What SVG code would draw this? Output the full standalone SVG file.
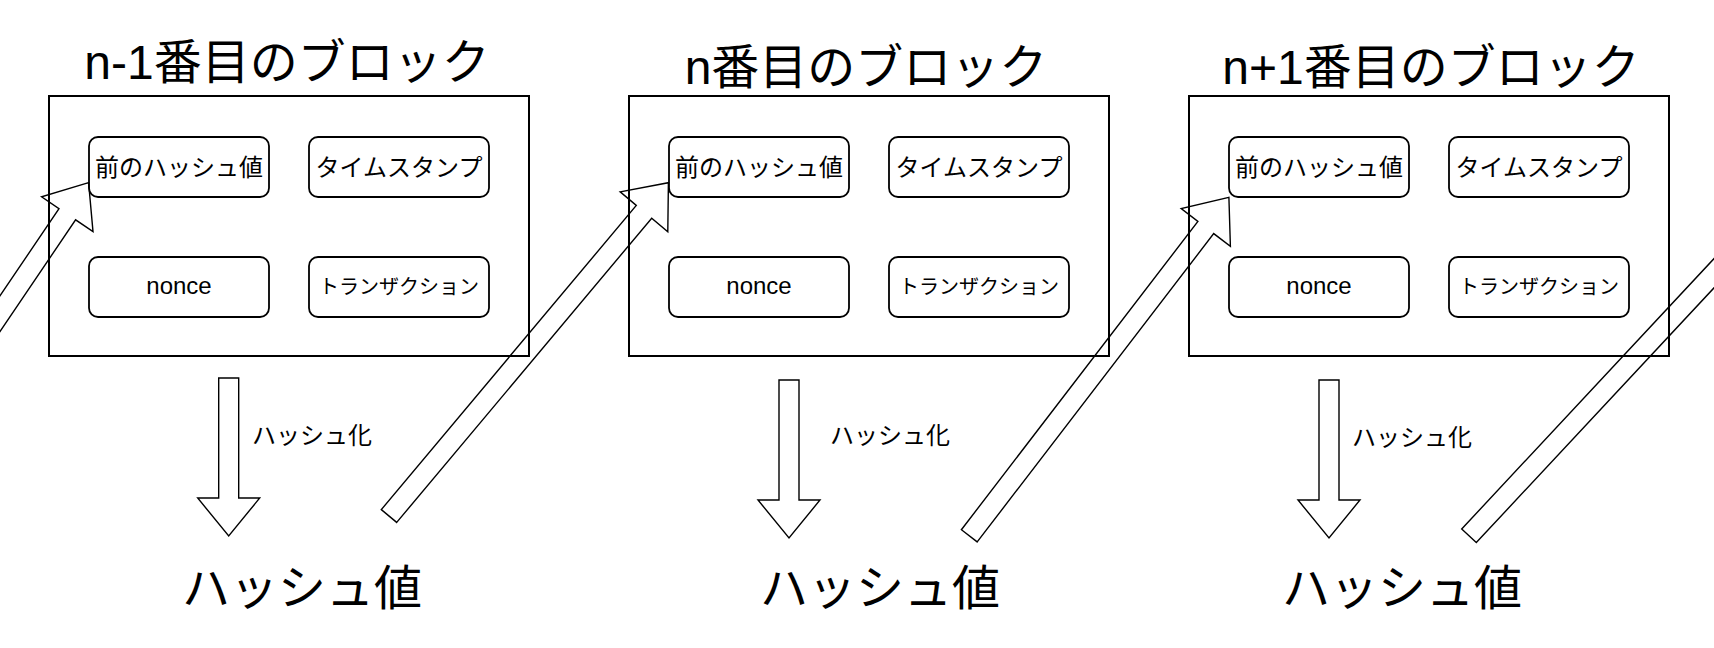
<svg xmlns="http://www.w3.org/2000/svg" width="1714" height="648" viewBox="0 0 1714 648">
<style>
text{font-family:"Liberation Sans","Noto Sans CJK JP",sans-serif;fill:#000;text-anchor:middle}
.blk{fill:none;stroke:#000;stroke-width:2}
.box{fill:#fff;stroke:#000;stroke-width:1.8}
.arr{fill:none;stroke:#000;stroke-width:1.4;stroke-linejoin:miter}
.title{font-size:48px}
.t24{font-size:24px}
.t20{font-size:20px}
.big{font-size:48px}
</style>
<rect width="1714" height="648" fill="#fff"/>

<g id="block-n-1">
<text class="title" x="287" y="79">n-1番目のブロック</text>
<rect class="blk" x="49" y="96" width="480" height="260"/>
</g>
<g id="block-n-1-prevhash"><rect class="box" x="89" y="137" width="180" height="60" rx="9"/><text class="t24" x="179" y="176">前のハッシュ値</text></g>
<g id="block-n-1-timestamp"><rect class="box" x="309" y="137" width="180" height="60" rx="9"/><text class="t24" x="399" y="176">タイムスタンプ</text></g>
<g id="block-n-1-nonce"><rect class="box" x="89" y="257" width="180" height="60" rx="9"/><text class="t24" x="179" y="294">nonce</text></g>
<g id="block-n-1-tx"><rect class="box" x="309" y="257" width="180" height="60" rx="9"/><text class="t20" x="399" y="294">トランザクション</text></g>
<g id="hash-n-1"><text class="big" x="302" y="605">ハッシュ値</text></g>

<g id="block-n">
<text class="title" x="866" y="84">n番目のブロック</text>
<rect class="blk" x="629" y="96" width="480" height="260"/>
</g>
<g id="block-n-prevhash"><rect class="box" x="669" y="137" width="180" height="60" rx="9"/><text class="t24" x="759" y="176">前のハッシュ値</text></g>
<g id="block-n-timestamp"><rect class="box" x="889" y="137" width="180" height="60" rx="9"/><text class="t24" x="979" y="176">タイムスタンプ</text></g>
<g id="block-n-nonce"><rect class="box" x="669" y="257" width="180" height="60" rx="9"/><text class="t24" x="759" y="294">nonce</text></g>
<g id="block-n-tx"><rect class="box" x="889" y="257" width="180" height="60" rx="9"/><text class="t20" x="979" y="294">トランザクション</text></g>
<g id="hash-n"><text class="big" x="880" y="605">ハッシュ値</text></g>

<g id="block-n+1">
<text class="title" x="1431" y="84">n+1番目のブロック</text>
<rect class="blk" x="1189" y="96" width="480" height="260"/>
</g>
<g id="block-n+1-prevhash"><rect class="box" x="1229" y="137" width="180" height="60" rx="9"/><text class="t24" x="1319" y="176">前のハッシュ値</text></g>
<g id="block-n+1-timestamp"><rect class="box" x="1449" y="137" width="180" height="60" rx="9"/><text class="t24" x="1539" y="176">タイムスタンプ</text></g>
<g id="block-n+1-nonce"><rect class="box" x="1229" y="257" width="180" height="60" rx="9"/><text class="t24" x="1319" y="294">nonce</text></g>
<g id="block-n+1-tx"><rect class="box" x="1449" y="257" width="180" height="60" rx="9"/><text class="t20" x="1539" y="294">トランザクション</text></g>
<g id="hash-n+1"><text class="big" x="1402" y="605">ハッシュ値</text></g>

<g id="connectors">
<polygon class="arr" points="218.7,378 238.7,378 238.7,498 259.7,498 228.7,536 197.7,498 218.7,498"/>
<text class="t24" x="312" y="444">ハッシュ化</text>
<polygon class="arr" points="779,380 799,380 799,500 820,500 789,538 758,500 779,500"/>
<text class="t24" x="890" y="444">ハッシュ化</text>
<polygon class="arr" points="1319,380 1339,380 1339,500 1360,500 1329,538 1298,500 1319,500"/>
<text class="t24" x="1412" y="446">ハッシュ化</text>

<polygon class="arr" points="-148.4,551 75.6,219.8 93,231.6 88.6,182.7 41.6,196.8 59,208.6 -165,539.8"/>
<polygon class="arr" points="396.7,522.4 651.7,218.2 667.8,231.7 668.4,182.7 620.2,191.9 636.3,205.4 381.3,509.6"/>
<polygon class="arr" points="977.2,541.9 1213.7,233.6 1230.4,246.4 1228.9,197.3 1181.2,208.6 1197.9,221.4 961.4,529.7"/>
<polygon class="arr" points="1476.3,542.6 1777.8,219.5 1793.2,233.8 1796.4,184.9 1747.8,191.6 1763.2,205.9 1461.7,529"/>
</g>
</svg>
